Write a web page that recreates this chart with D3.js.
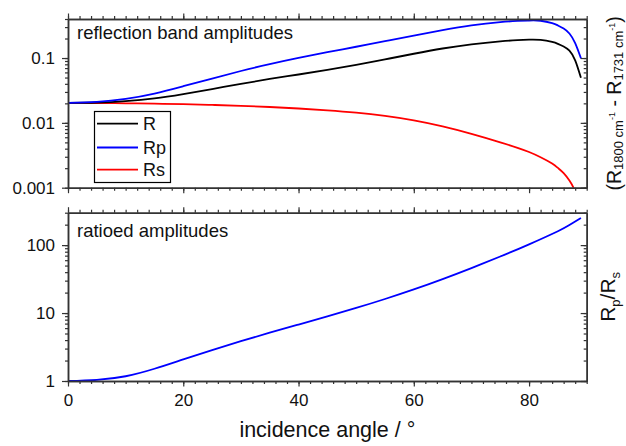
<!DOCTYPE html>
<html>
<head>
<meta charset="utf-8">
<script src="https://cdn.jsdelivr.net/npm/d3@7"></script>
<style>
  html, body { margin: 0; padding: 0; background: #fff; }
  svg { display: block; font-family: "Liberation Sans", Arial, sans-serif; }
</style>
</head>
<body>
<svg id="chart" width="626" height="446"></svg>
<script>
// ---- data ----
const angles = [0, 5, 10, 15, 20, 25, 30, 35, 40, 45, 50, 55, 60, 65, 70, 75, 78, 80, 82, 84, 85, 86, 87, 88, 89];
const R  = [0.0203, 0.0206, 0.0217, 0.02388, 0.02786, 0.03327, 0.03999, 0.04753, 0.05572, 0.06577, 0.07852, 0.0953, 0.1164, 0.1403, 0.1626, 0.1807, 0.1888, 0.1919, 0.1901, 0.1770, 0.1656, 0.1507, 0.1300, 0.0923, 0.0495];
const Rp = [0.0203, 0.02104, 0.02344, 0.02831, 0.03673, 0.04831, 0.0631, 0.08054, 0.1005, 0.1230, 0.1493, 0.1816, 0.2218, 0.2692, 0.3184, 0.3581, 0.3733, 0.3793, 0.3758, 0.3451, 0.3184, 0.2851, 0.2388, 0.1698, 0.0989];
const Rs = [0.0203, 0.02023, 0.02004, 0.01977, 0.01941, 0.01892, 0.01832, 0.01758, 0.01667, 0.01560, 0.01435, 0.01279, 0.01091, 0.00881, 0.00676, 0.00501, 0.00412, 0.00355, 0.00295, 0.00236, 0.00202, 0.00168, 0.00129, 0.00087, 0.00043];
const ratioAngles = [0, 5, 10, 15, 20, 25, 30, 35, 40, 45, 50, 55, 60, 65, 70, 75, 80, 85, 87, 89];
const ratio       = [1.0, 1.040, 1.175, 1.514, 2.080, 2.851, 3.855, 5.140, 6.776, 8.933, 11.89, 16.11, 22.28, 31.62, 45.92, 67.92, 102.8, 160.3, 197.2, 251.2];

const seriesNames  = ["R", "Rp", "Rs"];
const seriesColors = ["#000000", "#0000ff", "#ff0000"];
const xTickValues    = [0, 20, 40, 60, 80];
const topYTickValues = [0.001, 0.01, 0.1];
const botYTickValues = [1, 10, 100];
const topPanelLabel = "reflection band amplitudes";
const botPanelLabel = "ratioed amplitudes";
const xTitle = "incidence angle / °";

// ---- layout ----
const svg = d3.select("#chart");
const L = 68, Rgt = 586.7;
const top1 = 19, bot1 = 187.7;
const top2 = 212.7, bot2 = 381;
const frameColor = "#333";
const fontFam = "'Liberation Sans', Arial, sans-serif";

const x = d3.scaleLinear().domain([0, 90]).range([L, Rgt]);
const yTop = d3.scaleLog().domain([0.001, 0.4]).range([bot1, top1]);
const yBot = d3.scaleLog().domain([1, 300]).range([bot2, top2]);

const xMinor = d3.range(0, 91, 2);

function logMinor(scale) {
  const [a, b] = scale.domain();
  return scale.ticks().filter(v => v >= a && v <= b);
}

function styleAxis(g) {
  g.selectAll("path.domain").attr("stroke", frameColor).attr("stroke-width", 1.5);
  g.selectAll(".tick line").attr("stroke", frameColor).attr("stroke-width", 1.2);
  g.selectAll(".tick text").attr("fill", "#111").style("font-size", "17px").style("font-family", fontFam);
}

function drawPanel(yScale, yt, yb, yMajor, fmt, withXLabels) {
  const g = svg.append("g");
  g.append("g").attr("transform", `translate(0,${yb})`)
    .call(d3.axisBottom(x).tickValues(xMinor).tickSize(3).tickFormat("").tickSizeOuter(0)).call(styleAxis);
  g.append("g").attr("transform", `translate(0,${yt})`)
    .call(d3.axisBottom(x).tickValues(xMinor).tickSize(-3).tickFormat("").tickSizeOuter(0)).call(styleAxis);
  g.append("g").attr("transform", `translate(${L},0)`)
    .call(d3.axisLeft(yScale).tickValues(logMinor(yScale)).tickSize(3).tickFormat("").tickSizeOuter(0)).call(styleAxis);
  g.append("g").attr("transform", `translate(${Rgt},0)`)
    .call(d3.axisRight(yScale).tickValues(logMinor(yScale)).tickSize(-3).tickFormat("").tickSizeOuter(0)).call(styleAxis);
  g.append("g").attr("transform", `translate(0,${yb})`)
    .call(d3.axisBottom(x).tickValues(xTickValues).tickSize(5.5).tickPadding(7).tickSizeOuter(0)
      .tickFormat(withXLabels ? d3.format("d") : ""))
    .call(styleAxis);
  g.append("g").attr("transform", `translate(0,${yt})`)
    .call(d3.axisBottom(x).tickValues(xTickValues).tickSize(-5.5).tickFormat("").tickSizeOuter(0)).call(styleAxis);
  g.append("g").attr("transform", `translate(${L},0)`)
    .call(d3.axisLeft(yScale).tickValues(yMajor).tickSize(6).tickPadding(7).tickFormat(fmt).tickSizeOuter(0)).call(styleAxis);
  g.append("g").attr("transform", `translate(${Rgt},0)`)
    .call(d3.axisRight(yScale).tickValues(yMajor).tickSize(-6).tickFormat("").tickSizeOuter(0)).call(styleAxis);
  return g;
}

// clip paths
const defs = svg.append("defs");
defs.append("clipPath").attr("id", "clipTop").append("rect")
  .attr("x", L).attr("y", top1).attr("width", Rgt - L).attr("height", bot1 - top1);
defs.append("clipPath").attr("id", "clipBot").append("rect")
  .attr("x", L).attr("y", top2).attr("width", Rgt - L).attr("height", bot2 - top2);

// series lines - top
const topSeries = [R, Rp, Rs];
const lineTop = d3.line().x(d => x(d[0])).y(d => yTop(d[1])).curve(d3.curveNatural);
const gTop = svg.append("g").attr("clip-path", "url(#clipTop)");
[2, 0, 1].forEach(i => {
  gTop.append("path")
    .datum(angles.map((a, k) => [a, topSeries[i][k]]))
    .attr("d", lineTop).attr("fill", "none")
    .attr("stroke", seriesColors[i]).attr("stroke-width", 1.8);
});

// series line - bottom
const lineBot = d3.line().x(d => x(d[0])).y(d => yBot(d[1])).curve(d3.curveNatural);
svg.append("g").attr("clip-path", "url(#clipBot)").append("path")
  .datum(ratioAngles.map((a, k) => [a, ratio[k]]))
  .attr("d", lineBot).attr("fill", "none")
  .attr("stroke", seriesColors[1]).attr("stroke-width", 1.8);

// axes / frames
const fmtTop = d => (d === 0.001 ? "0.001" : d === 0.01 ? "0.01" : "0.1");
drawPanel(yTop, top1, bot1, topYTickValues, fmtTop, false);
drawPanel(yBot, top2, bot2, botYTickValues, d3.format("d"), true);

// panel labels
svg.append("text").attr("x", 77).attr("y", 39).text(topPanelLabel)
  .style("font-size", "18.5px").attr("fill", "#111");
svg.append("text").attr("x", 77).attr("y", 237).text(botPanelLabel)
  .style("font-size", "18.5px").attr("fill", "#111");

// legend
const lg = svg.append("g");
lg.append("rect").attr("x", 94.5).attr("y", 111.5).attr("width", 76).attr("height", 71)
  .attr("fill", "#fff").attr("stroke", "#000").attr("stroke-width", 1.2);
const legendY = [123.7, 147.5, 169.7];
seriesNames.forEach((n, i) => {
  lg.append("line").attr("x1", 97).attr("x2", 138).attr("y1", legendY[i]).attr("y2", legendY[i])
    .attr("stroke", seriesColors[i]).attr("stroke-width", 1.8);
  lg.append("text").attr("x", 143).attr("y", legendY[i] + 6.5).text(n)
    .style("font-size", "18px").attr("fill", "#111");
});

// x title
svg.append("text").attr("x", (L + Rgt) / 2).attr("y", 437).attr("text-anchor", "middle")
  .style("font-size", "21.5px").attr("fill", "#111").text(xTitle);

// right y titles
const t1 = svg.append("text").attr("transform", `translate(620.5,${(top1 + bot1) / 2}) rotate(-90)`)
  .attr("text-anchor", "middle").style("font-size", "19.5px").attr("fill", "#111");
t1.append("tspan").text("(R");
t1.append("tspan").attr("dy", 2).style("font-size", "13px").text("1800 cm");
t1.append("tspan").attr("dy", -8).style("font-size", "9px").text("-1");
t1.append("tspan").attr("dy", 6).text(" - R");
t1.append("tspan").attr("dy", 2).style("font-size", "13px").text("1731 cm");
t1.append("tspan").attr("dy", -8).style("font-size", "9px").text("-1");
t1.append("tspan").attr("dy", 6).text(")");

const t2 = svg.append("text").attr("transform", `translate(615,${(top2 + bot2) / 2}) rotate(-90)`)
  .attr("text-anchor", "middle").style("font-size", "21px").attr("fill", "#111");
t2.append("tspan").text("R");
t2.append("tspan").attr("dy", 5).style("font-size", "13px").text("p");
t2.append("tspan").attr("dy", -5).text("/R");
t2.append("tspan").attr("dy", 5).style("font-size", "13px").text("s");
</script>
</body>
</html>
